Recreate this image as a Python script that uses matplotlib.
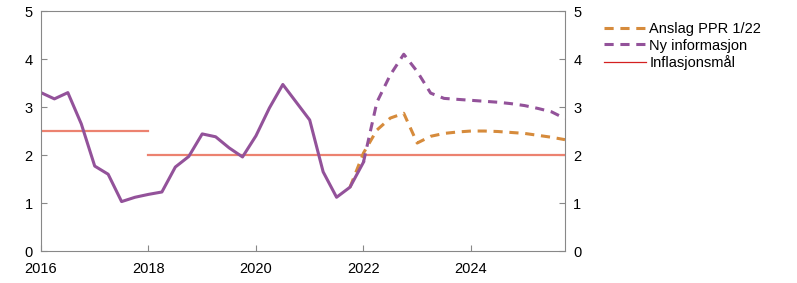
import matplotlib.pyplot as plt
from matplotlib.lines import Line2D

plt.rcParams['font.family'] = ['Liberation Sans', 'DejaVu Sans']

# quarterly data, x given as decimal year
hist_x = [2016.0, 2016.25, 2016.5, 2016.75, 2017.0, 2017.25, 2017.5, 2017.75,
          2018.0, 2018.25, 2018.5, 2018.75, 2019.0, 2019.25, 2019.5, 2019.75,
          2020.0, 2020.25, 2020.5, 2020.75, 2021.0, 2021.25, 2021.5, 2021.75, 2022.0]
hist_y = [3.3, 3.17, 3.3, 2.65, 1.77, 1.6, 1.03, 1.12,
          1.18, 1.23, 1.75, 1.97, 2.44, 2.38, 2.15, 1.96,
          2.4, 2.98, 3.47, 3.1, 2.73, 1.65, 1.12, 1.33, 1.85]

ppr_x = [2021.75, 2022.0, 2022.25, 2022.5, 2022.75, 2023.0, 2023.25, 2023.5,
         2023.75, 2024.0, 2024.25, 2024.5, 2024.75, 2025.0, 2025.25, 2025.5, 2025.75]
ppr_y = [1.33, 2.04, 2.52, 2.77, 2.87, 2.25, 2.39, 2.45,
         2.48, 2.5, 2.5, 2.49, 2.47, 2.45, 2.41, 2.37, 2.32]

ny_x = [2022.0, 2022.25, 2022.5, 2022.75, 2023.0, 2023.25, 2023.5,
        2023.75, 2024.0, 2024.25, 2024.5, 2024.75, 2025.0, 2025.25, 2025.5, 2025.75]
ny_y = [1.85, 3.1, 3.67, 4.1, 3.74, 3.29, 3.18,
        3.16, 3.14, 3.12, 3.1, 3.07, 3.03, 2.97, 2.9, 2.76]

target_x1 = [2016.0, 2018.0]
target_y1 = [2.5, 2.5]
target_x2 = [2018.0, 2025.75]
target_y2 = [2.0, 2.0]

purple = '#93529A'
orange = '#D68B3C'
salmon = '#EC8270'

fig = plt.figure(figsize=(7.97, 2.83), dpi=100)
ax = fig.add_axes([0.0514, 0.113, 0.6575, 0.848])

ax.plot(target_x1, target_y1, color=salmon, lw=1.6)
ax.plot(target_x2, target_y2, color=salmon, lw=1.6)
ax.plot(ppr_x, ppr_y, color=orange, lw=2.2, ls=(0, (3, 2.2)))
ax.plot(ny_x, ny_y, color=purple, lw=2.2, ls=(0, (3, 2.2)))
ax.plot(hist_x, hist_y, color=purple, lw=2.2)

ax.set_xlim(2016, 2025.75)
ax.set_ylim(0, 5)
ax.set_xticks([2016, 2018, 2020, 2022, 2024])
ax.set_yticks([0, 1, 2, 3, 4, 5])
ax.tick_params(direction='in', length=4, color='#888888', labelsize=10.5,
               right=True, labelright=True, pad=6)
ax.tick_params(axis='x', pad=8)
for s in ax.spines.values():
    s.set_color('#888888')

handles = [Line2D([], [], color=orange, lw=2.2, ls=(0, (3, 2.2))),
           Line2D([], [], color=purple, lw=2.2, ls=(0, (3, 2.2))),
           Line2D([], [], color='#D42020', lw=0.9)]
labels = ['Anslag PPR 1/22', 'Ny informasjon', 'Inflasjonsmål']
fig.legend(handles, labels, loc='upper left', bbox_to_anchor=(0.745, 0.958),
           frameon=False, fontsize=10.5, handlelength=2.9, handletextpad=0.2,
           labelspacing=0.17, borderpad=0.2)

fig.savefig('out.png', dpi=100)
